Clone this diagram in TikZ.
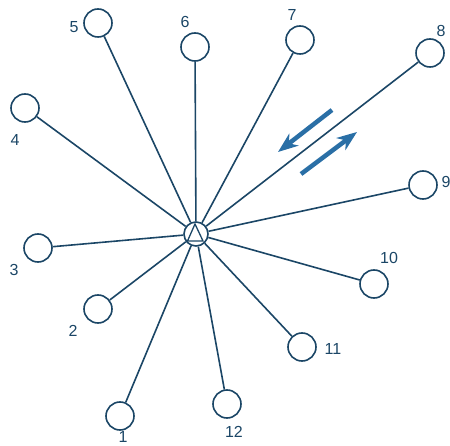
\documentclass[tikz,border=0pt]{standalone}
\usepackage{fontspec}
\setmainfont{Liberation Sans}
\usetikzlibrary{arrows.meta}
\definecolor{ink}{HTML}{1B4666}
\definecolor{arrowblue}{HTML}{2A6FA6}
\begin{document}
\begin{tikzpicture}[x=1pt,y=-1pt,
  station/.style={circle,draw=ink,line width=1.6pt,minimum size=28pt,inner sep=0pt,fill=white},
  hubnode/.style={circle,draw=ink,line width=1.6pt,minimum size=24pt,inner sep=0pt},
  spoke/.style={draw=ink,line width=1.6pt},
  lbl/.style={text=ink,font=\fontsize{16}{16}\selectfont,inner sep=0pt},
  flow/.style={draw=arrowblue,line width=4.5pt,-{Stealth[length=20pt,width=15pt,inset=6pt]}}]
\useasboundingbox (0,0) rectangle (450,446);
\node[hubnode] (hub) at (196,234) {};
\draw[ink,line width=1.3pt] (195,224) -- (187.5,241) -- (203,241) -- cycle;
\node[station] (n1) at (120,416) {};
\node[station] (n2) at (98,309) {};
\node[station] (n3) at (38,248) {};
\node[station] (n4) at (25,108) {};
\node[station] (n5) at (98,23) {};
\node[station] (n6) at (195,47) {};
\node[station] (n7) at (300,40) {};
\node[station] (n8) at (430,53) {};
\node[station] (n9) at (423,185) {};
\node[station] (n10) at (374,284) {};
\node[station] (n11) at (302,347) {};
\node[station] (n12) at (227,404) {};
\foreach \i in {1,...,12} {\draw[spoke] (hub) -- (n\i);}
\node[lbl] (l1) at (123,437) {1};
\node[lbl] (l2) at (73,331) {2};
\node[lbl] (l3) at (14,270) {3};
\node[lbl] (l4) at (15,140) {4};
\node[lbl] (l5) at (74,27) {5};
\node[lbl] (l6) at (185,22) {6};
\node[lbl] (l7) at (292,15) {7};
\node[lbl] (l8) at (441,31) {8};
\node[lbl] (l9) at (446,182) {9};
\node[lbl] (l10) at (389,258) {10};
\node[lbl] (l11) at (333,349) {11};
\node[lbl] (l12) at (234,432) {12};
\coordinate (a1s) at (332,110);
\coordinate (a1e) at (278,152);
\coordinate (a2s) at (301,174);
\coordinate (a2e) at (357,132);
\draw[flow] (a1s) -- (a1e);
\draw[flow] (a2s) -- (a2e);
\end{tikzpicture}
\end{document}
